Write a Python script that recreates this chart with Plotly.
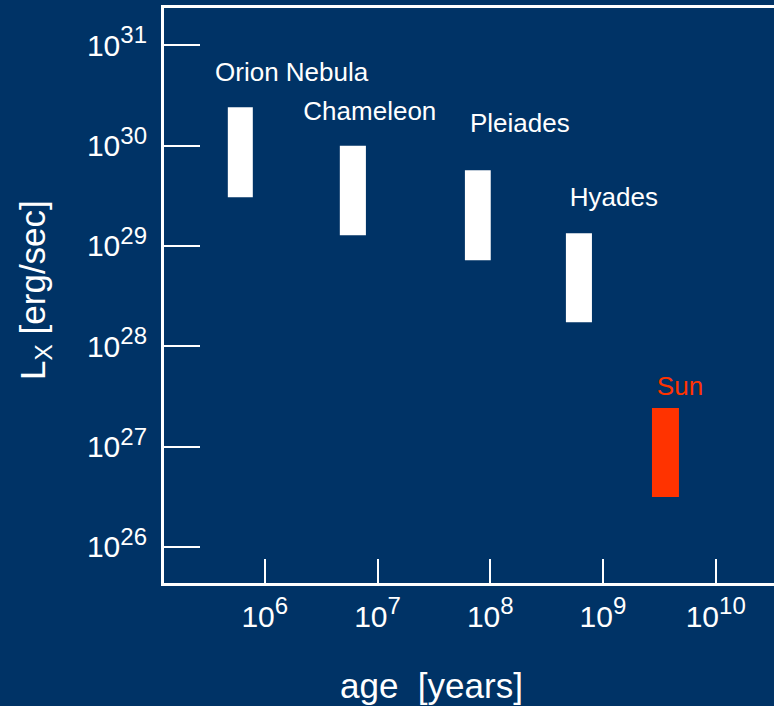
import plotly.graph_objects as go

# Data
clusters = ["Orion Nebula", "Chameleon", "Pleiades", "Hyades", "Sun"]
age_lo = [4.70e5, 4.63e6, 5.96e7, 4.69e8, 2.72e9]      # years, left edge of bar
age_hi = [7.83e5, 7.89e6, 1.01e8, 7.98e8, 4.72e9]      # years, right edge of bar
lx_lo = [3.06e29, 1.28e29, 7.2e28, 1.74e28, 3.15e26]   # erg/s
lx_hi = [2.41e30, 1.0e30, 5.7e29, 1.34e29, 2.43e27]    # erg/s
bar_colors = ["#FFFFFF", "#FFFFFF", "#FFFFFF", "#FFFFFF", "#FF3300"]

# label anchors (age, Lx)
label_age = [1.73e6, 8.55e6, 1.83e8, 1.25e9, 4.82e9]
label_lx = [5.1e30, 2.1e30, 1.6e30, 2.9e29, 3.8e27]

x_tickvals = [1e6, 1e7, 1e8, 1e9, 1e10]
x_exponents = ["6", "7", "8", "9", "10"]
y_tickvals = [1e26, 1e27, 1e28, 1e29, 1e30, 1e31]
y_exponents = ["26", "27", "28", "29", "30", "31"]


def power_label(e):
    return "10<sup><span style='font-size:24px'>" + e + "</span></sup>"


x_ticktext = [power_label(e) for e in x_exponents]
y_ticktext = [power_label(e) for e in y_exponents]

BG = "#003366"
FONT = "Liberation Sans, Arial, sans-serif"

fig = go.Figure()
for i, name in enumerate(clusters):
    fig.add_trace(go.Scatter(
        x=[age_lo[i], age_hi[i], age_hi[i], age_lo[i], age_lo[i]],
        y=[lx_lo[i], lx_lo[i], lx_hi[i], lx_hi[i], lx_lo[i]],
        mode="lines", fill="toself", fillcolor=bar_colors[i],
        line=dict(width=0, color=bar_colors[i]),
        hoverinfo="skip", showlegend=False,
    ))

fig.add_trace(go.Scatter(
    x=label_age, y=label_lx, mode="text", text=clusters,
    textposition="middle center",
    textfont=dict(family=FONT, size=26, color=bar_colors),
    hoverinfo="skip", showlegend=False,
))

fig.update_layout(
    width=774, height=706,
    margin=dict(l=164, r=0, t=8, b=123),
    paper_bgcolor=BG, plot_bgcolor=BG,
    font=dict(family=FONT, color="white"),
    showlegend=False,
    annotations=[
        dict(text="age&nbsp; [years]", xref="paper", yref="paper",
             x=0.4385, y=-0.179, xanchor="center", yanchor="middle",
             showarrow=False, font=dict(size=35, color="white")),
        dict(text="L<sub>X</sub> [erg/sec]", xref="paper", yref="paper",
             x=-0.2115, y=0.5096, xanchor="center", yanchor="middle",
             textangle=-90, showarrow=False, font=dict(size=35, color="white")),
    ],
)
fig.update_xaxes(
    type="log", range=[5.106, 10.517],
    tickvals=x_tickvals, ticktext=x_ticktext,
    ticks="inside", ticklen=24, tickwidth=2, tickcolor="white",
    showline=True, linewidth=3, linecolor="white", mirror=True,
    showgrid=False, zeroline=False,
    tickfont=dict(size=30, color="white"), ticklabelstandoff=5,
)
fig.update_yaxes(
    type="log", range=[25.641, 31.372],
    tickvals=y_tickvals, ticktext=y_ticktext,
    ticks="inside", ticklen=36, tickwidth=2, tickcolor="white",
    showline=True, linewidth=3, linecolor="white", mirror=False,
    showgrid=False, zeroline=False,
    tickfont=dict(size=30, color="white"), ticklabelstandoff=8,
)

fig.write_html("out.html", config={"displayModeBar": False})
with open("out.html", encoding="utf-8") as f:
    html = f.read()
html = html.replace("<body>", '<body style="margin:0;padding:0;overflow:hidden;background:#003366">', 1)
with open("out.html", "w", encoding="utf-8") as f:
    f.write(html)
